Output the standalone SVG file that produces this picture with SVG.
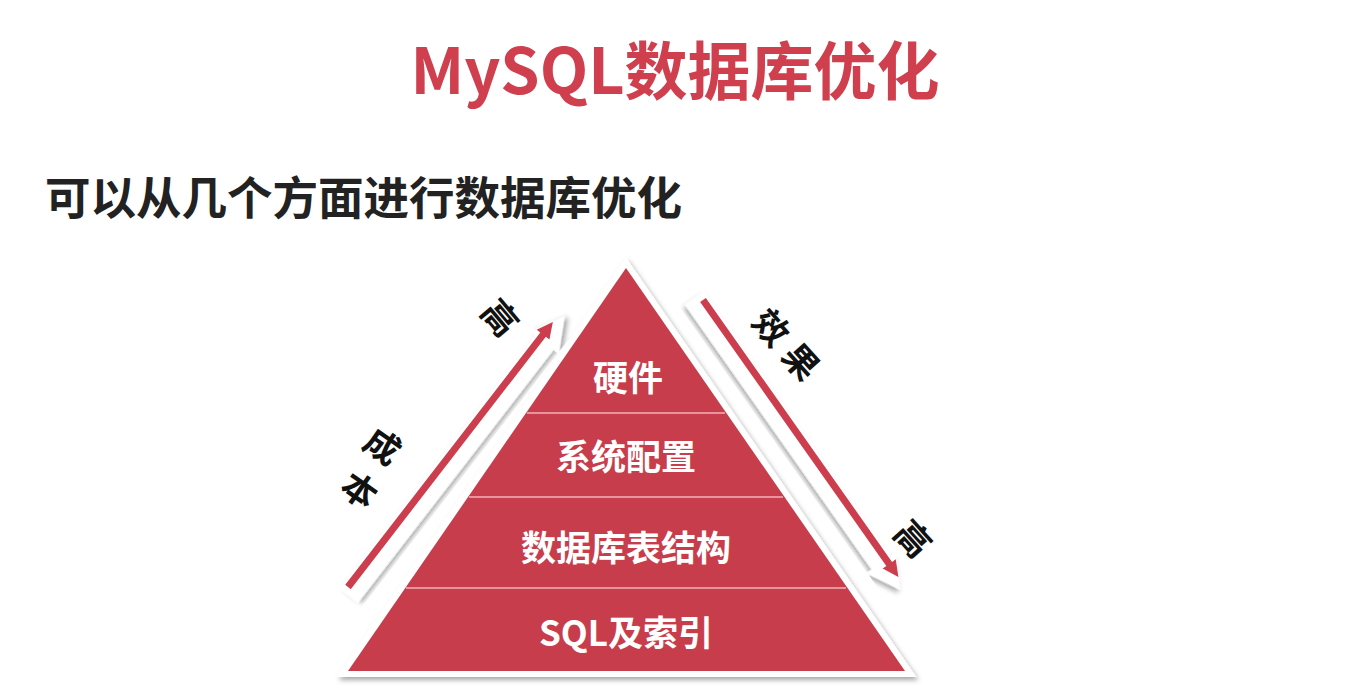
<svg xmlns="http://www.w3.org/2000/svg" width="1347" height="699" viewBox="0 0 1347 699">
  <defs>
    <filter id="sh" x="-20%" y="-20%" width="140%" height="140%">
      <feDropShadow dx="2" dy="3" stdDeviation="2.5" flood-color="#000" flood-opacity="0.35"/>
    </filter>
    <style>
      .cjk { font-family: "Noto Sans CJK SC", "Noto Sans", sans-serif; font-weight: 700; }
      .title { fill: #cf3f4e; font-size: 63px; }
      .sub { fill: #222; font-size: 45.5px; }
      .layer { fill: #ffffff; font-size: 35px; text-anchor: middle; }
      .lab { fill: #111; font-size: 35px; text-anchor: middle; dominant-baseline: central; }
      .div { stroke: #e6949d; stroke-width: 2; }
      .band { fill: #ffffff; stroke: #ffffff; stroke-width: 7; stroke-linejoin: miter; }
      .red { fill: #cc3d4d; }
    </style>
  </defs>
  <rect width="1347" height="699" fill="#ffffff"/>

  <g id="title">
    <text class="cjk title" x="675" y="94" text-anchor="middle">MySQL数据库优化</text>
  </g>
  <g id="subtitle">
    <text class="cjk sub" x="45" y="215">可以从几个方面进行数据库优化</text>
  </g>

  <g id="pyramid">
    <polygon points="626,268 348,671 905,671" fill="#c73c4b" stroke="#ffffff" stroke-width="12" stroke-linejoin="miter" paint-order="stroke" filter="url(#sh)"/>
    <line class="div" x1="527" y1="413" x2="725" y2="413"/>
    <line class="div" x1="469" y1="497" x2="783" y2="497"/>
    <line class="div" x1="406" y1="588" x2="846" y2="588"/>
  </g>

  <g id="layer-hardware">
    <text class="cjk layer" x="628" y="391">硬件</text>
  </g>
  <g id="layer-sysconfig">
    <text class="cjk layer" x="626" y="470">系统配置</text>
  </g>
  <g id="layer-schema">
    <text class="cjk layer" x="626" y="561">数据库表结构</text>
  </g>
  <g id="layer-sql">
    <text class="cjk layer" x="626" y="646">SQL及索引</text>
  </g>

  <g id="connectors">
    <g id="arrow-cost" transform="translate(348,587) rotate(-52.3)">
      <polygon class="band" points="-3,-2 317,-2 317,-6 339,6 317,18 317,14 -3,14" filter="url(#sh)"/>
      <polygon class="red" points="0,-3.5 319,-3.5 319,-8 335,0 319,8 319,3.5 0,3.5"/>
    </g>
    <g id="arrow-effect" transform="translate(703,300) rotate(54.8)">
      <polygon class="band" points="-3,-2 321,-2 321,-6 343,6 321,18 321,14 -3,14" filter="url(#sh)"/>
      <polygon class="red" points="0,-3.5 323,-3.5 323,-8 339,0 323,8 323,3.5 0,3.5"/>
    </g>
  </g>

  <g id="labels">
    <text class="cjk lab" transform="translate(502,316) rotate(50)">高</text>
    <text class="cjk lab" transform="translate(384,444) rotate(35)">成</text>
    <text class="cjk lab" transform="translate(361,488) rotate(35)">本</text>
    <text class="cjk lab" transform="translate(773,326) rotate(48)">效</text>
    <text class="cjk lab" transform="translate(803,360) rotate(48)">果</text>
    <text class="cjk lab" transform="translate(915,537) rotate(48)">高</text>
  </g>
</svg>
